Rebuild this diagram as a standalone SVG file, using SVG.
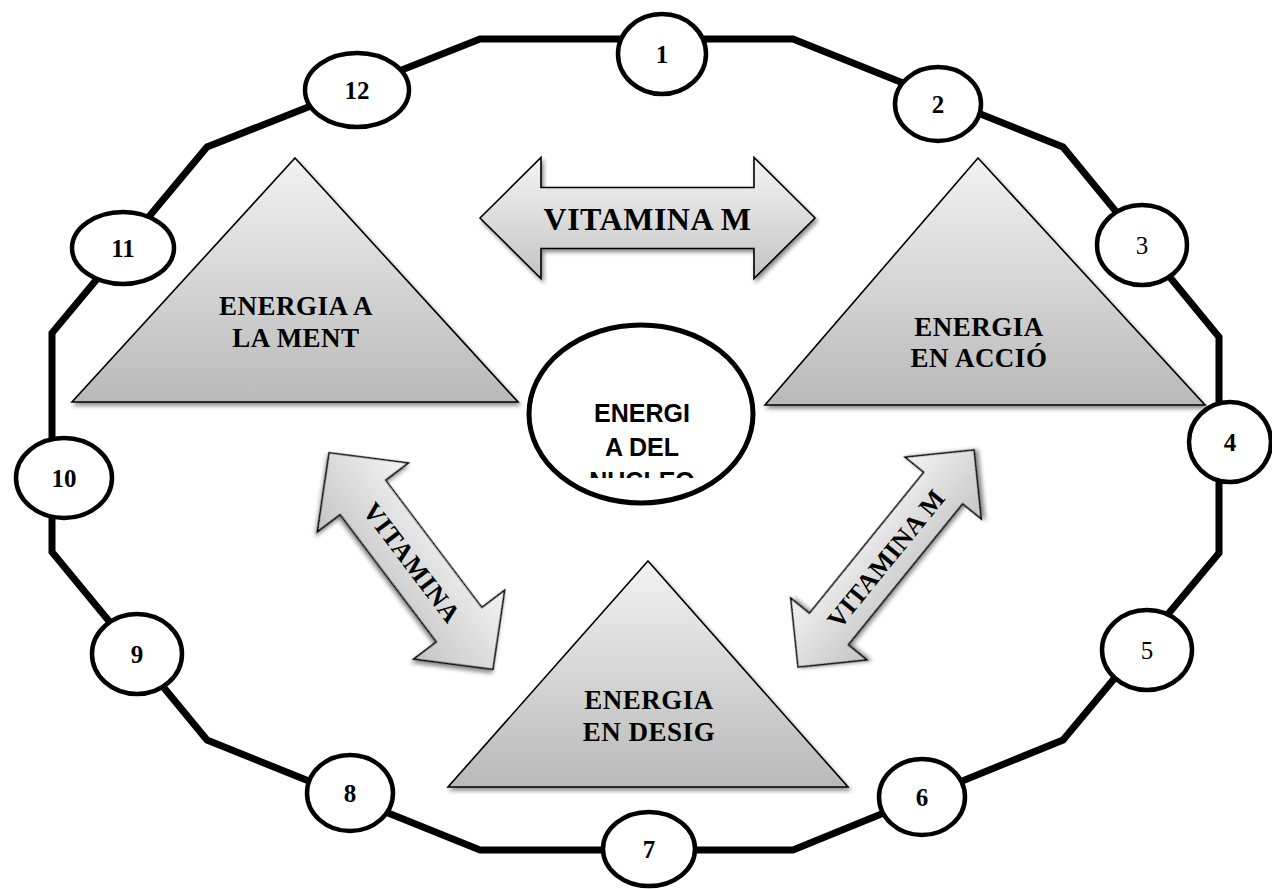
<svg xmlns="http://www.w3.org/2000/svg" width="1272" height="889" viewBox="0 0 1272 889">
  <defs>
    <linearGradient id="gTri" x1="0" y1="0" x2="0" y2="1">
      <stop offset="0" stop-color="#f2f2f2"/>
      <stop offset="1" stop-color="#b9b9b9"/>
    </linearGradient>
    <linearGradient id="gArrow" x1="0" y1="0" x2="0" y2="1">
      <stop offset="0" stop-color="#f4f4f4"/>
      <stop offset="1" stop-color="#c4c4c4"/>
    </linearGradient>
    <filter id="shadow" x="-10%" y="-10%" width="125%" height="130%">
      <feDropShadow dx="2" dy="3" stdDeviation="2" flood-color="#000" flood-opacity="0.45"/>
    </filter>
    <clipPath id="coreClip">
      <rect x="540" y="330" width="200" height="148"/>
    </clipPath>
    <!-- double-headed arrow along the x axis, centred on the origin -->
    <polygon id="arrowTop" points="-167.5,0 -106.5,-60.5 -106.5,-30.5 106.5,-30.5 106.5,-60.5 167.5,0 106.5,60.5 106.5,30.5 -106.5,30.5 -106.5,60.5"/>
    <polygon id="arrowLeft" points="-135.75,0 -79.75,-57 -79.75,-28.5 79.75,-28.5 79.75,-57 135.75,0 79.75,57 79.75,28.5 -79.75,28.5 -79.75,57"/>
    <polygon id="arrowRight" points="-139.7,0 -90.7,-49 -90.7,-25 90.7,-25 90.7,-49 139.7,0 90.7,49 90.7,25 -90.7,25 -90.7,49"/>
  </defs>
  <style>
    .ring { fill: none; stroke: #000; stroke-width: 7; stroke-linejoin: miter; }
    .num { fill: #fff; stroke: #000; stroke-width: 4.5; }
    .numtxt { font-family: "Liberation Serif", "DejaVu Serif", serif; font-weight: bold; font-size: 25px; text-anchor: middle; fill: #000; }
    .light { font-weight: normal; }
    .tri { fill: url(#gTri); stroke: #000; stroke-width: 1.6; stroke-linejoin: miter; filter: url(#shadow); }
    .tritxt { font-family: "Liberation Serif", "DejaVu Serif", serif; font-weight: bold; font-size: 27px; letter-spacing: 0.5px; text-anchor: middle; fill: #000; }
    .arrow { fill: url(#gArrow); stroke: #000; stroke-width: 1.6; stroke-linejoin: miter; filter: url(#shadow); }
    .arrtxt { font-family: "Liberation Serif", "DejaVu Serif", serif; font-weight: bold; text-anchor: middle; fill: #000; }
    .core { fill: #fff; stroke: #000; stroke-width: 5; }
    .coretxt { font-family: "Liberation Sans", Arial, sans-serif; font-weight: bold; font-size: 25px; text-anchor: middle; fill: #000; }
  </style>

  <rect width="1272" height="889" fill="#fff"/>

  <!-- outer ring path linking the twelve stations -->
  <g id="connectors">
    <polygon class="ring" points="480,39 793,39 1063,147 1219,337 1219,553 1063,740 793,850 480,850 207,740 52,552 52,333 207,147"/>
  </g>

  <!-- numbered stations -->
  <g id="n1"><ellipse class="num" cx="662" cy="54" rx="44" ry="40"/><text class="numtxt" x="662" y="63">1</text></g>
  <g id="n2"><ellipse class="num" cx="938" cy="104" rx="43" ry="37"/><text class="numtxt" x="938" y="113">2</text></g>
  <g id="n3"><ellipse class="num" cx="1142" cy="245" rx="45" ry="40"/><text class="numtxt light" x="1142" y="254">3</text></g>
  <g id="n4"><ellipse class="num" cx="1230" cy="442" rx="41" ry="40"/><text class="numtxt" x="1230" y="451">4</text></g>
  <g id="n5"><ellipse class="num" cx="1147" cy="650" rx="45" ry="40"/><text class="numtxt light" x="1147" y="659">5</text></g>
  <g id="n6"><ellipse class="num" cx="922" cy="797" rx="43" ry="38"/><text class="numtxt" x="922" y="806">6</text></g>
  <g id="n7"><ellipse class="num" cx="649" cy="849" rx="46" ry="37"/><text class="numtxt" x="649" y="858">7</text></g>
  <g id="n8"><ellipse class="num" cx="350" cy="793" rx="43" ry="38"/><text class="numtxt" x="350" y="802">8</text></g>
  <g id="n9"><ellipse class="num" cx="137" cy="654" rx="45" ry="40"/><text class="numtxt" x="137" y="663">9</text></g>
  <g id="n10"><ellipse class="num" cx="64" cy="478" rx="48" ry="40"/><text class="numtxt" x="64" y="487">10</text></g>
  <g id="n11"><ellipse class="num" cx="123" cy="248" rx="51" ry="36"/><text class="numtxt" x="123" y="257">11</text></g>
  <g id="n12"><ellipse class="num" cx="357" cy="90" rx="52" ry="37"/><text class="numtxt" x="357" y="99">12</text></g>

  <!-- energy triangles -->
  <g id="tri-ment">
    <polygon class="tri" points="295,158 518,402 72,402"/>
    <text class="tritxt" x="296" y="315">ENERGIA A</text>
    <text class="tritxt" x="296" y="347">LA MENT</text>
  </g>
  <g id="tri-accio">
    <polygon class="tri" points="978,158 1205,405 765,405"/>
    <text class="tritxt" x="979" y="336">ENERGIA</text>
    <text class="tritxt" x="979" y="367">EN ACCIÓ</text>
  </g>
  <g id="tri-desig">
    <polygon class="tri" points="648,561 848,787 448,787"/>
    <text class="tritxt" x="649" y="709">ENERGIA</text>
    <text class="tritxt" x="649" y="741">EN DESIG</text>
  </g>

  <!-- core -->
  <g id="core">
    <ellipse class="core" cx="641" cy="414" rx="112" ry="89"/>
    <g clip-path="url(#coreClip)">
      <text class="coretxt" x="642" y="422">ENERGI</text>
      <text class="coretxt" x="642" y="456">A DEL</text>
      <text class="coretxt" x="642" y="490">NUCLEO</text>
    </g>
  </g>

  <!-- vitamin arrows -->
  <g id="arrow-top" transform="translate(647.5,218)">
    <use href="#arrowTop" class="arrow"/>
    <text class="arrtxt" x="0" y="12" font-size="32" letter-spacing="0.5">VITAMINA M</text>
  </g>
  <g id="arrow-left" transform="translate(411,561) rotate(52.9)">
    <use href="#arrowLeft" class="arrow"/>
    <text class="arrtxt" x="2" y="9" font-size="26" letter-spacing="1">VITAMINA</text>
  </g>
  <g id="arrow-right" transform="translate(886,558.5) rotate(-50.96)">
    <use href="#arrowRight" class="arrow"/>
    <text class="arrtxt" x="0" y="9" font-size="26" letter-spacing="0.5">VITAMINA M</text>
  </g>
</svg>
